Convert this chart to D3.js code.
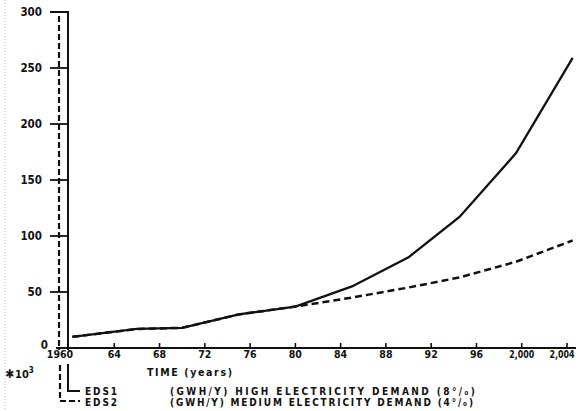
<!DOCTYPE html>
<html>
<head>
<meta charset="utf-8">
<script src="https://cdn.jsdelivr.net/npm/d3@7"></script>
<style>
  body { margin: 0; background: #fff; }
  text { font-family: "DejaVu Sans Condensed", "DejaVu Sans", sans-serif; font-weight: bold; fill: #111; }
</style>
</head>
<body>
<div id="chart"></div>
<script>
// years (points of the hand drawn curves)
var years = [1960.3, 1966, 1970, 1975, 1980, 1985, 1990, 1994.5, 1999.5, 2004.5];
var eds1 = [10, 17, 18, 30, 37, 55, 81, 117, 174, 259];   // high demand 8%
var eds2 = [10, 17, 18, 30, 37, 45, 54, 63, 77, 96];     // medium demand 4%

var xTicks = [1960, 1964, 1968, 1972, 1976, 1980, 1984, 1988, 1992, 1996, 2000, 2004];
var xTickLabels = ["1960", "64", "68", "72", "76", "80", "84", "88", "92", "96", "2,000", "2,004"];
var yTicks = [0, 50, 100, 150, 200, 250, 300];

var width = 578, height = 411;

var x = d3.scaleLinear().domain([1960, 2004]).range([69, 567]);
var y = d3.scaleLinear().domain([0, 300]).range([348, 12]);

var svg = d3.select("#chart").append("svg")
    .attr("width", width)
    .attr("height", height);

// faint scan edge on the left
svg.append("line")
    .attr("x1", 5).attr("x2", 5).attr("y1", 0).attr("y2", height)
    .attr("stroke", "#bbb").attr("stroke-width", 1).attr("stroke-dasharray", "1,2");

// x axis line + small upward ticks
svg.append("line")
    .attr("x1", 56).attr("x2", 576)
    .attr("y1", y(0)).attr("y2", y(0))
    .attr("stroke", "#111").attr("stroke-width", 2);

svg.selectAll(".xtick")
  .data(xTicks.slice(1))
  .enter().append("line")
    .attr("class", "xtick")
    .attr("x1", function (d) { return x(d); })
    .attr("x2", function (d) { return x(d); })
    .attr("y1", y(0)).attr("y2", y(0) - 5)
    .attr("stroke", "#111").attr("stroke-width", 1.6);

var xlab = svg.selectAll(".xlab")
  .data(xTicks)
  .enter().append("text")
    .attr("class", "xlab")
    .attr("x", function (d) { return x(d) + (d === 1960 ? -9 : d === 2004 ? -5 : 0); })
    .attr("y", 358)
    .attr("text-anchor", "middle")
    .attr("font-size", 10.5)
    .text(function (d, i) { return xTickLabels[i]; });
// the two long labels are set tighter in the original
xlab.filter(function (d) { return d >= 2000; })
    .attr("textLength", 25).attr("lengthAdjust", "spacingAndGlyphs");

// y ticks crossing both vertical axes
svg.selectAll(".ytick")
  .data(yTicks.slice(1))
  .enter().append("line")
    .attr("class", "ytick")
    .attr("x1", 50).attr("x2", 68)
    .attr("y1", function (d) { return y(d); })
    .attr("y2", function (d) { return y(d); })
    .attr("stroke", "#111").attr("stroke-width", 1.8);

svg.selectAll(".ylab")
  .data(yTicks)
  .enter().append("text")
    .attr("class", "ylab")
    .attr("x", function (d) { return d === 0 ? 48 : 42; })
    .attr("y", function (d) { return y(d) + (d === 0 ? 1 : 4); })
    .attr("text-anchor", "end")
    .attr("font-size", 11.5)
    .text(function (d) { return d; });

// solid axis (EDS1) running down into the legend, broken by the 1960 label
svg.append("path")
    .attr("d", "M50," + y(300) + " L68," + y(300) + " L68," + (y(0) + 2) +
               " M68,364 L68,391 L80,391")
    .attr("fill", "none").attr("stroke", "#111").attr("stroke-width", 2);

// dashed axis (EDS2) running down into the legend
svg.append("path")
    .attr("d", "M59," + (y(300) + 4) + " L59," + (y(0) + 2) +
               " M60,365 L60,401 L80,401")
    .attr("fill", "none").attr("stroke", "#111").attr("stroke-width", 2.2)
    .attr("stroke-dasharray", "6,3");

// the curves
var line = d3.line()
    .x(function (d) { return x(d[0]); })
    .y(function (d) { return y(d[1]); });

svg.append("path")
    .datum(years.map(function (t, i) { return [t, eds2[i]]; }))
    .attr("d", line)
    .attr("fill", "none").attr("stroke", "#111").attr("stroke-width", 2.5)
    .attr("stroke-dasharray", "7,4");

svg.append("path")
    .datum(years.map(function (t, i) { return [t, eds1[i]]; }))
    .attr("d", line)
    .attr("fill", "none").attr("stroke", "#111").attr("stroke-width", 2.3);

// texts
svg.append("text").attr("x", 147).attr("y", 376)
    .attr("font-size", 10.5)
    .attr("textLength", 85).attr("lengthAdjust", "spacing")
    .text("TIME (years)");

svg.append("text").attr("x", 5).attr("y", 378)
    .attr("font-size", 12)
    .text("\u2731")
  .append("tspan").attr("font-size", 11).attr("dx", 1).text("10")
  .append("tspan").attr("font-size", 8).attr("dy", -5).text("3");

svg.append("text").attr("x", 85).attr("y", 395)
    .attr("font-size", 10)
    .attr("textLength", 32).attr("lengthAdjust", "spacing").text("EDS1");
svg.append("text").attr("x", 85).attr("y", 406)
    .attr("font-size", 10)
    .attr("textLength", 32).attr("lengthAdjust", "spacing").text("EDS2");

svg.append("text").attr("x", 170).attr("y", 395)
    .attr("font-size", 10)
    .attr("textLength", 305).attr("lengthAdjust", "spacing")
    .text("(GWH/Y) HIGH ELECTRICITY DEMAND (8°/\u2080)");
svg.append("text").attr("x", 170).attr("y", 406)
    .attr("font-size", 10)
    .attr("textLength", 303).attr("lengthAdjust", "spacing")
    .text("(GWH/Y) MEDIUM ELECTRICITY DEMAND (4°/\u2080)");
</script>
</body>
</html>
